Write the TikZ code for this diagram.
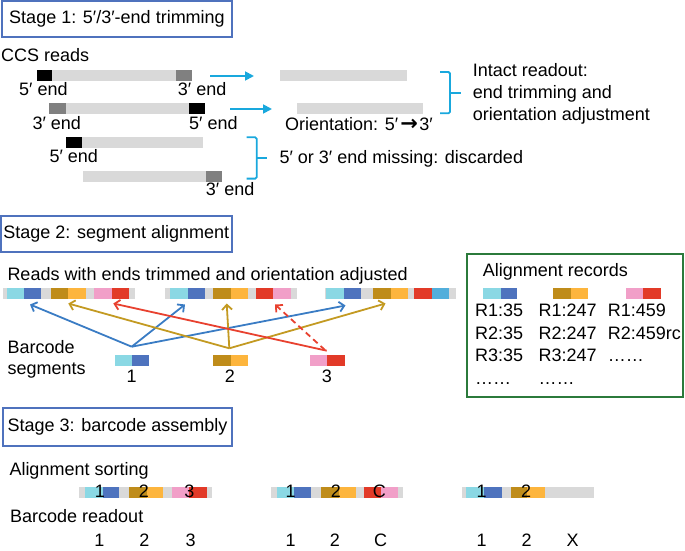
\documentclass[tikz,border=0pt]{standalone}
\usepackage{fontspec}
\setmainfont{Liberation Sans}
\newfontfamily\dejavub{DejaVu Sans Bold}
\usetikzlibrary{arrows.meta}
\definecolor{cA}{HTML}{8AD8E4}
\definecolor{cB}{HTML}{4E73BE}
\definecolor{cBr}{HTML}{BF8C1A}
\definecolor{cOr}{HTML}{FDB53D}
\definecolor{cPk}{HTML}{F19FC8}
\definecolor{cRd}{HTML}{E23A28}
\definecolor{cLb}{HTML}{52AEDB}
\definecolor{lgray}{HTML}{D9D9D9}
\definecolor{dgray}{HTML}{808080}
\definecolor{arrcyan}{HTML}{19A8DD}
\definecolor{arrblue}{HTML}{3A7CC4}
\definecolor{arrbrown}{HTML}{C39A22}
\definecolor{arrred}{HTML}{E8412F}
\definecolor{boxblue}{HTML}{4F72BD}
\definecolor{boxgreen}{HTML}{2B7A3B}
\newcommand\rbar[5]{\fill[#5] (#1,#3) rectangle (#2,#4);}
\begin{document}
\begin{tikzpicture}[x=1pt,y=-1pt,
  font=\fontsize{18}{21.6}\selectfont,
  txt/.style={inner sep=0pt, anchor=base west},
  ctxt/.style={inner sep=0pt, anchor=base},
  stagebox/.style={draw=boxblue, line width=1.8pt, inner sep=0pt},
  s1arrow/.style={draw=arrcyan, line width=1.8pt, -{Triangle[length=9pt,width=9pt]}},
  bracestyle/.style={draw=arrcyan, line width=1.8pt, rounded corners=1.5pt},
  barb/.style={line width=1.8pt, -{Straight Barb[length=5pt,width=10pt]}},
]
\useasboundingbox (0,0) rectangle (685,551);

% ---------------- Stage 1 ----------------
\node[stagebox, minimum width=230.6pt, minimum height=35.7pt] (s1) at (117,18.8) {Stage 1: 5′/3′-end trimming};
\node[txt] (ccs) at (1,61.7) {CCS reads};

% read 1
\rbar{36.7}{191.7}{70}{81}{lgray}
\rbar{36.7}{52.3}{70}{81}{black}
\rbar{175.7}{191.7}{70}{81}{dgray}
\node[txt] (r1a) at (19,95) {5′ end};
\node[txt] (r1b) at (177.7,95) {3′ end};
% read 2
\rbar{49.3}{205}{103.3}{114.3}{lgray}
\rbar{49.3}{65.7}{103.3}{114.3}{dgray}
\rbar{189}{205}{103.3}{114.3}{black}
\node[txt] (r2a) at (32.3,129.3) {3′ end};
\node[txt] (r2b) at (189,129.3) {5′ end};
% read 3
\rbar{66}{203.3}{136.7}{147.7}{lgray}
\rbar{66}{81.7}{136.7}{147.7}{black}
\node[txt] (r3a) at (49.3,162.7) {5′ end};
% read 4
\rbar{82.7}{221.7}{170.7}{181.7}{lgray}
\rbar{205.7}{221.7}{170.7}{181.7}{dgray}
\node[txt] (r4a) at (205.7,195) {3′ end};

% arrows
\coordinate (a1s) at (210,76);
\coordinate (a1e) at (254,76);
\coordinate (a2s) at (230,109);
\coordinate (a2e) at (272,109);
\draw[s1arrow] (a1s) -- (a1e);
\draw[s1arrow] (a2s) -- (a2e);

% output reads
\rbar{280}{406.7}{70}{81}{lgray}
\rbar{296.7}{423.3}{103.3}{114.3}{lgray}
\node[txt] (orient) at (285,130.7) {Orientation: 5′\kern2pt{\dejavub\fontsize{21}{21}\selectfont →}\kern1.5pt3′};

% braces
\draw[bracestyle] (440,72) -- (450,72) -- (450,113.3) -- (440,113.3);
\coordinate (b1m) at (450,92.7);
\coordinate (b1t) at (461,92.7);
\draw[draw=arrcyan, line width=1.8pt] (b1m) -- (b1t);
\node[txt] (int1) at (472.7,76.7) {Intact readout:};
\node[txt] (int2) at (472.7,98.3) {end trimming and};
\node[txt] (int3) at (472.7,120) {orientation adjustment};

\draw[bracestyle] (246.7,137.3) -- (256.7,137.3) -- (256.7,178.6) -- (246.7,178.6);
\coordinate (b2m) at (256.7,158);
\coordinate (b2t) at (266.5,158);
\draw[draw=arrcyan, line width=1.8pt] (b2m) -- (b2t);
\node[txt] (disc) at (279.3,163.3) {5′ or 3′ end missing: discarded};

% ---------------- Stage 2 ----------------
\node[stagebox, minimum width=230.7pt, minimum height=35.7pt] (s2) at (116.3,233.8) {Stage 2: segment alignment};
\node[txt] (reads) at (7.3,280) {Reads with ends trimmed and orientation adjusted};

% read A
\rbar{2.7}{135}{288}{299}{lgray}
\rbar{7.3}{24.3}{288}{299}{cA}
\rbar{24.3}{41.3}{288}{299}{cB}
\rbar{51}{68.3}{288}{299}{cBr}
\rbar{68.3}{85.7}{288}{299}{cOr}
\rbar{94.3}{111.7}{288}{299}{cPk}
\rbar{111.7}{129}{288}{299}{cRd}
% read B
\rbar{165}{296.7}{288}{299}{lgray}
\rbar{170}{187.7}{288}{299}{cA}
\rbar{187.7}{205.3}{288}{299}{cB}
\rbar{212.7}{231}{288}{299}{cBr}
\rbar{231}{247.7}{288}{299}{cOr}
\rbar{256}{273.3}{288}{299}{cRd}
\rbar{273.3}{290.7}{288}{299}{cPk}
% read C
\rbar{325}{456.3}{288}{299}{lgray}
\rbar{326.3}{344}{288}{299}{cA}
\rbar{344}{361.3}{288}{299}{cB}
\rbar{373.3}{390.7}{288}{299}{cBr}
\rbar{390.7}{407.5}{288}{299}{cOr}
\rbar{414.3}{431.7}{288}{299}{cRd}
\rbar{431.7}{449}{288}{299}{cLb}

% barcode segments
\node[txt] (bc1) at (7.3,353.5) {Barcode};
\node[txt] (bc2) at (7.3,374) {segments};
\rbar{114.7}{132.3}{354.7}{365.7}{cA}
\rbar{132.3}{149}{354.7}{365.7}{cB}
\rbar{213}{230.5}{354.7}{365.7}{cBr}
\rbar{230.5}{247.5}{354.7}{365.7}{cOr}
\rbar{310}{327.3}{354.7}{365.7}{cPk}
\rbar{327.3}{344.5}{354.7}{365.7}{cRd}
\node[ctxt] (n1) at (131.7,382) {1};
\node[ctxt] (n2) at (230,382) {2};
\node[ctxt] (n3) at (327,382) {3};

% alignment arrows
\coordinate (src1) at (131.7,346.7);
\coordinate (src2) at (229.3,348.3);
\coordinate (src3) at (326.7,350.7);
\coordinate (src3d) at (325,350);
\coordinate (tb1) at (30,304.5);
\coordinate (tb2) at (185,304.5);
\coordinate (tb3) at (345.5,305.5);
\coordinate (to1) at (68.3,303.5);
\coordinate (to2) at (226.7,303.5);
\coordinate (to3) at (385.5,303.5);
\coordinate (tr1) at (113.3,303.5);
\coordinate (tr2) at (275,304.5);
\draw[barb, arrblue] (src1) -- (tb1);
\draw[barb, arrblue] (src1) -- (tb2);
\draw[barb, arrblue] (src1) -- (tb3);
\draw[barb, arrbrown] (src2) -- (to1);
\draw[barb, arrbrown] (src2) -- (to2);
\draw[barb, arrbrown] (src2) -- (to3);
\draw[barb, arrred] (src3) -- (tr1);
\draw[barb, arrred, dash pattern=on 6pt off 4pt] (src3d) -- (tr2);

% alignment records
\node[draw=boxgreen, line width=1.8pt, inner sep=0pt, minimum width=215.4pt, minimum height=143.3pt] (rec) at (575,325.65) {};
\node[txt] (rech) at (482.7,276.7) {Alignment records};
\rbar{482.7}{500.7}{288.3}{299}{cA}
\rbar{500.7}{517.3}{288.3}{299}{cB}
\rbar{553.3}{571}{288.3}{299}{cBr}
\rbar{571}{587.7}{288.3}{299}{cOr}
\rbar{626}{642.7}{288.3}{299}{cPk}
\rbar{642.7}{660.7}{288.3}{299}{cRd}
\node[txt] (ra1) at (475,316.7) {R1:35};
\node[txt] (rb1) at (538.3,316.7) {R1:247};
\node[txt] (rc1) at (607.7,316.7) {R1:459};
\node[txt] (ra2) at (475,339) {R2:35};
\node[txt] (rb2) at (538.3,339) {R2:247};
\node[txt] (rc2) at (607.7,339) {R2:459rc};
\node[txt] (ra3) at (475,361) {R3:35};
\node[txt] (rb3) at (538.3,361) {R3:247};
\node[txt] (rc3) at (607.7,361) {……};
\node[txt] (ra4) at (475,384.3) {……};
\node[txt] (rb4) at (538.3,384.3) {……};

% ---------------- Stage 3 ----------------
\node[stagebox, minimum width=229.6pt, minimum height=37.7pt] (s3) at (117.5,427.2) {Stage 3: barcode assembly};
\node[txt] (sort) at (9.3,475) {Alignment sorting};
% bar 1
\rbar{79.3}{211.7}{487.3}{498.3}{lgray}
\rbar{85}{102.7}{487.3}{498.3}{cA}
\rbar{102.7}{119.3}{487.3}{498.3}{cB}
\rbar{129}{146.7}{487.3}{498.3}{cBr}
\rbar{146.7}{163.3}{487.3}{498.3}{cOr}
\rbar{171.7}{189.3}{487.3}{498.3}{cPk}
\rbar{189.3}{206.7}{487.3}{498.3}{cRd}
\node[ctxt] (l11) at (100,497.7) {1};
\node[ctxt] (l12) at (144,497.7) {2};
\node[ctxt] (l13) at (189.3,497.7) {3};
% bar 2
\rbar{270.7}{402.7}{487.3}{498.3}{lgray}
\rbar{276.7}{294.3}{487.3}{498.3}{cA}
\rbar{294.3}{311}{487.3}{498.3}{cB}
\rbar{321}{338.5}{487.3}{498.3}{cBr}
\rbar{338.5}{355.7}{487.3}{498.3}{cOr}
\rbar{364}{380.7}{487.3}{498.3}{cRd}
\rbar{380.7}{398.3}{487.3}{498.3}{cPk}
\node[ctxt] (l21) at (290.7,497.7) {1};
\node[ctxt] (l22) at (336,497.7) {2};
\node[ctxt] (l23) at (379.3,497.7) {C};
% bar 3
\rbar{462.3}{594.3}{487.3}{498.3}{lgray}
\rbar{466}{484.3}{487.3}{498.3}{cA}
\rbar{484.3}{502.3}{487.3}{498.3}{cB}
\rbar{510.7}{527.3}{487.3}{498.3}{cBr}
\rbar{527.3}{545}{487.3}{498.3}{cOr}
\node[ctxt] (l31) at (481.7,497.7) {1};
\node[ctxt] (l32) at (526,497.7) {2};

\node[txt] (ro) at (10,522.7) {Barcode readout};
\node[ctxt] (o11) at (99.3,546.7) {1};
\node[ctxt] (o12) at (144.3,546.7) {2};
\node[ctxt] (o13) at (190.7,546.7) {3};
\node[ctxt] (o21) at (290.7,546.7) {1};
\node[ctxt] (o22) at (335,546.7) {2};
\node[ctxt] (o23) at (380.7,546.7) {C};
\node[ctxt] (o31) at (481.7,546.7) {1};
\node[ctxt] (o32) at (526.7,546.7) {2};
\node[ctxt] (o33) at (572.7,546.7) {X};
\end{tikzpicture}
\end{document}
